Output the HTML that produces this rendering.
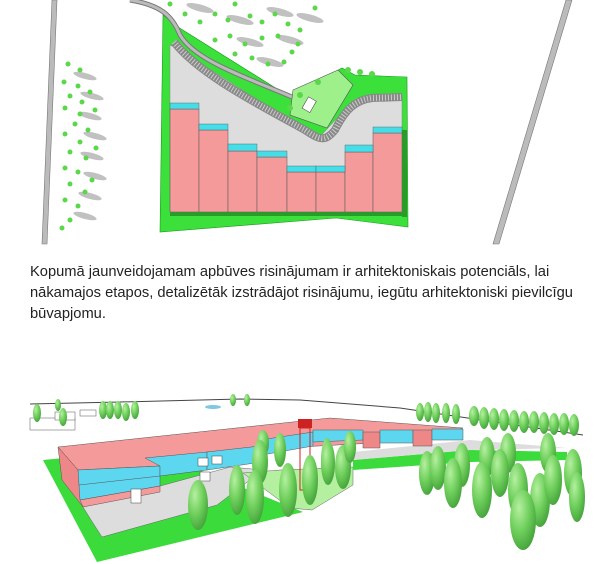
<!DOCTYPE html>
<html><head><meta charset="utf-8"><style>
html,body{margin:0;padding:0;background:#fff;width:611px;height:564px;overflow:hidden}
.t{position:absolute;left:30px;top:262px;font-family:"Liberation Sans",sans-serif;font-size:14.7px;line-height:21px;color:#222;white-space:nowrap}
svg{position:absolute;left:0;top:0}
</style></head><body>
<svg width="611" height="564" viewBox="0 0 611 564">
<defs>
<radialGradient id="tg" cx="0.35" cy="0.3" r="0.8"><stop offset="0" stop-color="#b5f0a0"/><stop offset="0.5" stop-color="#6fcf5c"/><stop offset="1" stop-color="#3e9c36"/></radialGradient>
</defs>
<!-- TOP PLAN -->
<polygon points="52,0 57,0 47,244 42,244" fill="#bbb" stroke="#777" stroke-width="0.6"/>
<polygon points="566,0 572,0 499,244 493,244" fill="#bbb" stroke="#777" stroke-width="0.6"/>
<polygon points="163,15 178,27 290,97 342,68 355,75 407,77 408,227 336,218 160,232" fill="#3be03b" stroke="#1a9a1a" stroke-width="0.6"/>
<polygon points="170,45 180,50 250,95 317,140 340,115 363,97 402,95 402,212 170,212" fill="#ddd" stroke="#888" stroke-width="0.5"/>
<path d="M174,42 C200,75 260,105 305,130 C320,140 325,142 335,130 C345,110 355,100 372,98 L402,97" fill="none" stroke="#888" stroke-width="8"/>
<path d="M174,42 C200,75 260,105 305,130 C320,140 325,142 335,130 C345,110 355,100 372,98 L402,97" fill="none" stroke="#ccc" stroke-width="6" stroke-dasharray="1 2"/>
<path d="M130,0 C160,5 172,15 180,35 C195,60 240,75 292,97" fill="none" stroke="#777" stroke-width="5"/>
<path d="M130,0 C160,5 172,15 180,35 C195,60 240,75 292,97" fill="none" stroke="#bbb" stroke-width="3"/>
<polygon points="293,90 338,70 353,85 327,128 290,115" fill="#9ef08a" stroke="#555" stroke-width="0.6"/>
<rect x="305" y="98" width="9" height="13" fill="#fff" stroke="#333" stroke-width="0.5" transform="rotate(30 309 104)"/>
<g fill="#f59a9a" stroke="#555" stroke-width="0.5">
<rect x="170" y="109" width="29" height="103"/><rect x="199" y="130" width="29" height="82"/>
<rect x="228" y="151" width="29" height="61"/><rect x="257" y="157" width="30" height="55"/>
<rect x="287" y="172" width="29" height="40"/><rect x="316" y="172" width="29" height="40"/>
<rect x="345" y="152" width="28" height="60"/><rect x="373" y="133" width="29" height="79"/>
</g>
<g fill="#44dde8" stroke="#555" stroke-width="0.4">
<rect x="170" y="103" width="29" height="6"/><rect x="199" y="124" width="29" height="6"/>
<rect x="228" y="144" width="29" height="7"/><rect x="257" y="151" width="30" height="6"/>
<rect x="287" y="166" width="29" height="6"/><rect x="316" y="166" width="29" height="6"/>
<rect x="345" y="145" width="28" height="7"/><rect x="373" y="127" width="29" height="6"/>
</g>
<rect x="402" y="130" width="5" height="87" fill="#2a9a2a"/>
<rect x="170" y="212" width="237" height="4" fill="#2a9a2a"/>
<g fill="#bbb" opacity="0.9">
<ellipse cx="85" cy="76" rx="12" ry="3" transform="rotate(15 85 76)"/><ellipse cx="92" cy="96" rx="12" ry="3" transform="rotate(15 92 96)"/>
<ellipse cx="90" cy="116" rx="12" ry="3" transform="rotate(15 90 116)"/><ellipse cx="95" cy="136" rx="12" ry="3" transform="rotate(15 95 136)"/>
<ellipse cx="92" cy="156" rx="12" ry="3" transform="rotate(15 92 156)"/><ellipse cx="95" cy="176" rx="12" ry="3" transform="rotate(15 95 176)"/>
<ellipse cx="90" cy="196" rx="12" ry="3" transform="rotate(15 90 196)"/><ellipse cx="85" cy="216" rx="12" ry="3" transform="rotate(15 85 216)"/>
<ellipse cx="200" cy="8" rx="14" ry="3.5" transform="rotate(15 200 8)"/><ellipse cx="240" cy="20" rx="14" ry="3.5" transform="rotate(15 240 20)"/>
<ellipse cx="280" cy="12" rx="14" ry="3.5" transform="rotate(15 280 12)"/><ellipse cx="250" cy="42" rx="14" ry="3.5" transform="rotate(15 250 42)"/>
<ellipse cx="290" cy="40" rx="14" ry="3.5" transform="rotate(15 290 40)"/><ellipse cx="270" cy="62" rx="14" ry="3.5" transform="rotate(15 270 62)"/>
<ellipse cx="310" cy="18" rx="14" ry="3.5" transform="rotate(15 310 18)"/>
</g>
<g fill="#5ad84a">
<circle cx="68" cy="64" r="2.5"/><circle cx="80" cy="70" r="2.5"/><circle cx="64" cy="82" r="2.5"/><circle cx="78" cy="86" r="2.5"/><circle cx="90" cy="92" r="2.5"/>
<circle cx="70" cy="96" r="2.5"/><circle cx="82" cy="102" r="2.5"/><circle cx="65" cy="108" r="2.5"/><circle cx="80" cy="114" r="2.5"/><circle cx="95" cy="110" r="2.5"/>
<circle cx="75" cy="124" r="2.5"/><circle cx="88" cy="130" r="2.5"/><circle cx="65" cy="134" r="2.5"/><circle cx="80" cy="142" r="2.5"/><circle cx="96" cy="148" r="2.5"/>
<circle cx="70" cy="152" r="2.5"/><circle cx="86" cy="158" r="2.5"/><circle cx="65" cy="168" r="2.5"/><circle cx="78" cy="172" r="2.5"/><circle cx="92" cy="180" r="2.5"/>
<circle cx="70" cy="184" r="2.5"/><circle cx="85" cy="192" r="2.5"/><circle cx="65" cy="200" r="2.5"/><circle cx="78" cy="206" r="2.5"/><circle cx="70" cy="220" r="2.5"/><circle cx="62" cy="228" r="2.5"/>
<circle cx="170" cy="4" r="2.5"/><circle cx="185" cy="14" r="2.5"/><circle cx="200" cy="22" r="2.5"/><circle cx="215" cy="14" r="2.5"/><circle cx="228" cy="20" r="2.5"/>
<circle cx="235" cy="4" r="2.5"/><circle cx="250" cy="16" r="2.5"/><circle cx="262" cy="22" r="2.5"/><circle cx="275" cy="14" r="2.5"/><circle cx="288" cy="24" r="2.5"/>
<circle cx="300" cy="30" r="2.5"/><circle cx="315" cy="8" r="2.5"/><circle cx="215" cy="40" r="2.5"/><circle cx="230" cy="36" r="2.5"/><circle cx="245" cy="44" r="2.5"/>
<circle cx="262" cy="38" r="2.5"/><circle cx="278" cy="36" r="2.5"/><circle cx="298" cy="44" r="2.5"/><circle cx="235" cy="54" r="2.5"/><circle cx="252" cy="58" r="2.5"/><circle cx="268" cy="64" r="2.5"/><circle cx="284" cy="62" r="2.5"/><circle cx="292" cy="52" r="2.5"/>
<circle cx="348" cy="70" r="3"/><circle cx="360" cy="72" r="3"/><circle cx="372" cy="74" r="3"/><circle cx="300" cy="95" r="3"/><circle cx="318" cy="82" r="3"/><circle cx="290" cy="108" r="3"/>
</g>

<!-- BOTTOM 3D -->
<path d="M30,404 L120,402 L240,399 L300,400 L400,408 L583,435" fill="none" stroke="#444" stroke-width="1"/>
<g fill="#fff" stroke="#555" stroke-width="0.5">
<rect x="30" y="418" width="45" height="12"/><rect x="55" y="412" width="20" height="8"/><rect x="80" y="410" width="16" height="6"/>
</g>
<ellipse cx="213" cy="407" rx="8" ry="2" fill="#7ec8e0"/>
<!-- ground -->
<polygon points="43,460 150,450 303,512 97,562" fill="#3bdb3b"/>
<polygon points="83,507 230,467 263,470 217,505 102,537 93,523" fill="#ddd" stroke="#666" stroke-width="0.5"/>
<polygon points="243,473 280,470 353,467 353,485 312,510 290,508" fill="#b5f0a0" stroke="#666" stroke-width="0.5"/>
<polygon points="353,460 470,450 567,452 567,460 470,462 353,470" fill="#3bdb3b"/>
<polygon points="353,452 470,440 567,448 470,450 353,460" fill="#ddd"/>
<!-- building -->
<polygon points="58,447 330,418 463,428 430,440 207,452 160,466 78,470" fill="#f59a9a" stroke="#555" stroke-width="0.5"/>
<polygon points="58,447 78,470 83,507 62,480" fill="#e88" stroke="#555" stroke-width="0.5"/>
<polygon points="78,470 160,466 160,486 80,500" fill="#5dd6f0" stroke="#555" stroke-width="0.5"/>
<line x1="79" y1="485" x2="160" y2="476" stroke="#555" stroke-width="0.5"/>
<polygon points="80,500 160,486 160,492 83,507" fill="#f59a9a" stroke="#555" stroke-width="0.5"/>
<polygon points="145,458 207,452 207,470 160,476 160,466" fill="#5dd6f0" stroke="#555" stroke-width="0.5"/>
<polygon points="207,452 260,446 262,462 207,470" fill="#5dd6f0" stroke="#555" stroke-width="0.5"/>
<polygon points="260,440 313,432 313,446 262,455" fill="#5dd6f0" stroke="#555" stroke-width="0.5"/>
<polygon points="313,430 363,430 363,440 313,442" fill="#5dd6f0" stroke="#555" stroke-width="0.5"/>
<polygon points="363,432 380,432 380,448 363,448" fill="#e88" stroke="#555" stroke-width="0.5"/>
<polygon points="380,430 413,430 413,443 380,443" fill="#5dd6f0" stroke="#555" stroke-width="0.5"/>
<polygon points="413,430 432,430 432,446 413,446" fill="#e88" stroke="#555" stroke-width="0.5"/>
<polygon points="432,429 463,429 463,440 432,440" fill="#5dd6f0" stroke="#555" stroke-width="0.5"/>
<rect x="298" y="419" width="14" height="9" fill="#cc2222"/>
<rect x="300" y="428" width="10" height="62" fill="none" stroke="#c22" stroke-width="1"/>
<g fill="#fff" stroke="#444" stroke-width="0.5">
<rect x="131" y="489" width="10" height="14"/><rect x="198" y="458" width="10" height="8"/><rect x="212" y="456" width="10" height="8"/><rect x="200" y="472" width="10" height="9"/>
</g>
<!-- trees -->
<g fill="url(#tg)">
<ellipse cx="37" cy="413" rx="4" ry="9"/><ellipse cx="63" cy="417" rx="4" ry="9"/><ellipse cx="58" cy="405" rx="3" ry="6"/>
<ellipse cx="103" cy="410" rx="4" ry="9"/><ellipse cx="110" cy="410" rx="4" ry="9"/><ellipse cx="118" cy="410" rx="4" ry="9"/><ellipse cx="126" cy="412" rx="4" ry="9"/><ellipse cx="135" cy="410" rx="4" ry="9"/>
<ellipse cx="233" cy="400" rx="3" ry="6"/><ellipse cx="247" cy="400" rx="3" ry="6"/>
<ellipse cx="420" cy="412" rx="4" ry="9"/><ellipse cx="428" cy="412" rx="4" ry="10"/><ellipse cx="436" cy="413" rx="4" ry="10"/><ellipse cx="446" cy="413" rx="4" ry="10"/><ellipse cx="456" cy="414" rx="4" ry="10"/>
<ellipse cx="474" cy="416" rx="5" ry="10"/><ellipse cx="484" cy="418" rx="5" ry="11"/><ellipse cx="494" cy="419" rx="5" ry="11"/><ellipse cx="504" cy="420" rx="5" ry="11"/><ellipse cx="514" cy="421" rx="5" ry="11"/><ellipse cx="524" cy="422" rx="5" ry="11"/><ellipse cx="534" cy="422" rx="5" ry="11"/><ellipse cx="544" cy="423" rx="5" ry="11"/><ellipse cx="554" cy="424" rx="5" ry="11"/><ellipse cx="564" cy="424" rx="5" ry="11"/><ellipse cx="574" cy="425" rx="5" ry="11"/>
<ellipse cx="263" cy="443" rx="6" ry="13"/><ellipse cx="280" cy="450" rx="6" ry="17"/><ellipse cx="260" cy="462" rx="8" ry="22"/>
<ellipse cx="237" cy="490" rx="8" ry="25"/><ellipse cx="255" cy="497" rx="9" ry="27"/><ellipse cx="198" cy="505" rx="10" ry="25"/>
<ellipse cx="288" cy="490" rx="9" ry="27"/><ellipse cx="310" cy="480" rx="8" ry="25"/><ellipse cx="327" cy="460" rx="6" ry="22"/>
<ellipse cx="328" cy="463" rx="7" ry="22"/><ellipse cx="343" cy="467" rx="8" ry="22"/><ellipse cx="350" cy="447" rx="6" ry="16"/>
<ellipse cx="427" cy="473" rx="8" ry="22"/><ellipse cx="438" cy="468" rx="8" ry="22"/><ellipse cx="462" cy="465" rx="8" ry="22"/><ellipse cx="453" cy="483" rx="9" ry="25"/>
<ellipse cx="487" cy="457" rx="8" ry="20"/><ellipse cx="508" cy="453" rx="8" ry="20"/><ellipse cx="500" cy="473" rx="9" ry="24"/><ellipse cx="548" cy="453" rx="8" ry="20"/>
<ellipse cx="482" cy="490" rx="10" ry="28"/><ellipse cx="540" cy="500" rx="10" ry="27"/><ellipse cx="553" cy="480" rx="9" ry="25"/><ellipse cx="573" cy="473" rx="9" ry="24"/>
<ellipse cx="518" cy="490" rx="10" ry="27"/><ellipse cx="577" cy="497" rx="8" ry="25"/><ellipse cx="523" cy="520" rx="13" ry="30"/>
</g>
</svg>
<div class="t">Kopumā jaunveidojamam apbūves risinājumam ir arhitektoniskais potenciāls, lai<br>nākamajos etapos, detalizētāk izstrādājot risinājumu, iegūtu arhitektoniski pievilcīgu<br>būvapjomu.</div>
</body></html>
